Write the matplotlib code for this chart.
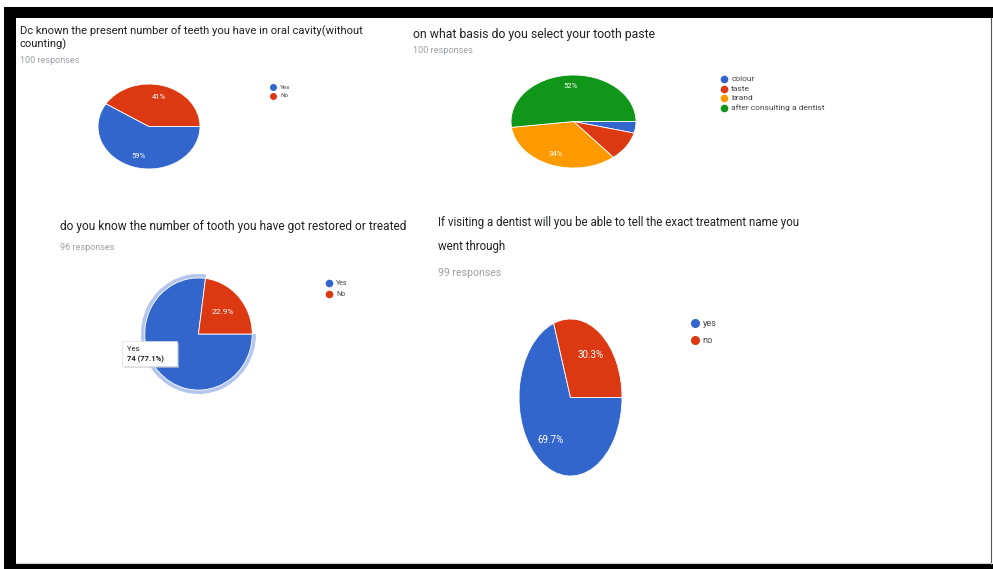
import matplotlib.pyplot as plt
from matplotlib.patches import Rectangle
import matplotlib.font_manager as fm

W, H = 993, 569

blue, red, orange, green = '#3366cc', '#dc3912', '#ff9900', '#109618'

# chart 1
labels1 = ['Yes', 'No']
values1 = [59, 41]
# chart 2
labels2 = ['colour', 'taste', 'brand', 'after consulting a dentist']
values2 = [4, 10, 34, 52]
# chart 3
labels3 = ['Yes', 'No']
values3 = [74, 22]
# chart 4
labels4 = ['yes', 'no']
values4 = [69, 30]

titles = [
    'Dc known the present number of teeth you have in oral cavity(without\ncounting)',
    'on what basis do you select your tooth paste',
    'do you know the number of tooth you have got restored or treated',
    'If visiting a dentist will you be able to tell the exact treatment name you\nwent through',
]
responses = ['100 responses', '100 responses', '96 responses', '99 responses']

names = {f.name for f in fm.fontManager.ttflist}
narrow = 'Liberation Sans Narrow' if 'Liberation Sans Narrow' in names else 'Roboto'
plt.rcParams['font.family'] = ['Roboto', 'DejaVu Sans']

fig = plt.figure(figsize=(W / 100, H / 100), dpi=100)


def pie_axes(x0, y0, x1, y1):
    return fig.add_axes([x0 / W, 1 - y1 / H, (x1 - x0) / W, (y1 - y0) / H])


def fmt(minimum, digits):
    def f(p):
        if p < minimum:
            return ''
        return f'{p:.{digits}f}%'
    return f


def draw_pie(ax, values, colors, lim, pctd, minimum, digits, fs):
    wedges, texts, autotexts = ax.pie(values, colors=colors, startangle=0, counterclock=False,
                                      autopct=fmt(minimum, digits), pctdistance=pctd,
                                      wedgeprops=dict(edgecolor='white', linewidth=0.6))
    for t in autotexts:
        t.set_color('white')
        t.set_fontsize(fs)
    ax.set_aspect('auto')
    ax.set_xlim(-lim, lim)
    ax.set_ylim(-lim, lim)
    ax.axis('off')
    return autotexts


ax1 = pie_axes(98, 84, 200, 169)
draw_pie(ax1, values1, [blue, red], 1.0, 0.72, 15, 0, 5.5)

ax2 = pie_axes(511, 75, 636, 168)
draw_pie(ax2, values2, [blue, red, orange, green], 1.0, 0.76, 15, 0, 5.5)

ax3 = pie_axes(141, 274, 256, 394)
ax3.pie(values3, colors=['#b4c6ee', 'none'], startangle=0, counterclock=False, radius=1.07)
at3 = draw_pie(ax3, values3, [blue, red], 1.07, 0.6, 0, 1, 6)
at3[0].set_visible(False)  # hidden under the tooltip

ax4 = pie_axes(519, 319, 622, 476)
draw_pie(ax4, values4, [blue, red], 1.0, 0.66, 0, 1, 7)

# overlay in pixel coordinates
ov = fig.add_axes([0, 0, 1, 1])
ov.set_xlim(0, W)
ov.set_ylim(H, 0)
ov.axis('off')
ov.patch.set_alpha(0)

# black frame
ov.add_patch(Rectangle((4, 7), W - 4, 11, color='black', lw=0))
ov.add_patch(Rectangle((4, 7), 12, H - 8, color='black', lw=0))
ov.add_patch(Rectangle((4, 564), W - 4, 5, color='black', lw=0))
ov.plot([991, 991], [18, 564], color='#555555', lw=0.8)
ov.plot([16, 991], [563, 563], color='#cccccc', lw=0.8)

# titles
ov.text(20, 31, titles[0].split('\n')[0], fontsize=8.1, color='#202124', va='center')
ov.text(20, 44, titles[0].split('\n')[1], fontsize=8.1, color='#202124', va='center')
ov.text(20, 60, responses[0], fontsize=6.5, color='#9aa0a6', va='center')

ov.text(413, 34, titles[1], fontsize=8.8, color='#202124', va='center')
ov.text(413, 50, responses[1], fontsize=6.6, color='#9aa0a6', va='center')

ov.text(60, 226, titles[2], fontsize=8.6, color='#202124', va='center')
ov.text(60, 247, responses[2], fontsize=6.5, color='#9aa0a6', va='center')

ov.text(438, 222, titles[3].split('\n')[0], fontsize=8.3, color='#202124', va='center', family=narrow)
ov.text(438, 246, titles[3].split('\n')[1], fontsize=8.3, color='#202124', va='center', family=narrow)
ov.text(438, 273, responses[3], fontsize=7.6, color='#9aa0a6', va='center', family=narrow)


def legend(x, y, step, labels, colors, fs, ms):
    for i, (lab, c) in enumerate(zip(labels, colors)):
        ov.plot(x, y + i * step, 'o', color=c, ms=ms)
        ov.text(x + 6 + ms * 0.3, y + i * step, lab, fontsize=fs, color='#444444', va='center')


legend(273, 87, 8.5, labels1, [blue, red], 4.5, 4)
legend(724, 79, 9.7, labels2, [blue, red, orange, green], 6, 4.5)
legend(329, 283, 11, labels3, [blue, red], 5, 4.5)
legend(695, 323, 17, labels4, [blue, red], 6.6, 5.5)

# tooltip on chart 3
ov.add_patch(Rectangle((124, 343), 55, 25, facecolor='#cccccc', lw=0, alpha=0.6))
ov.add_patch(Rectangle((122, 341), 55, 25, facecolor='white', edgecolor='#dddddd', lw=0.5))
ov.text(127, 349, labels3[0], fontsize=5.5, color='#222222', va='center')
ov.text(127, 359, f'{values3[0]} ({values3[0] / sum(values3) * 100:.1f}%)', fontsize=5.5,
        color='#222222', va='center', fontweight='bold')

fig.savefig('out.png', dpi=100)
